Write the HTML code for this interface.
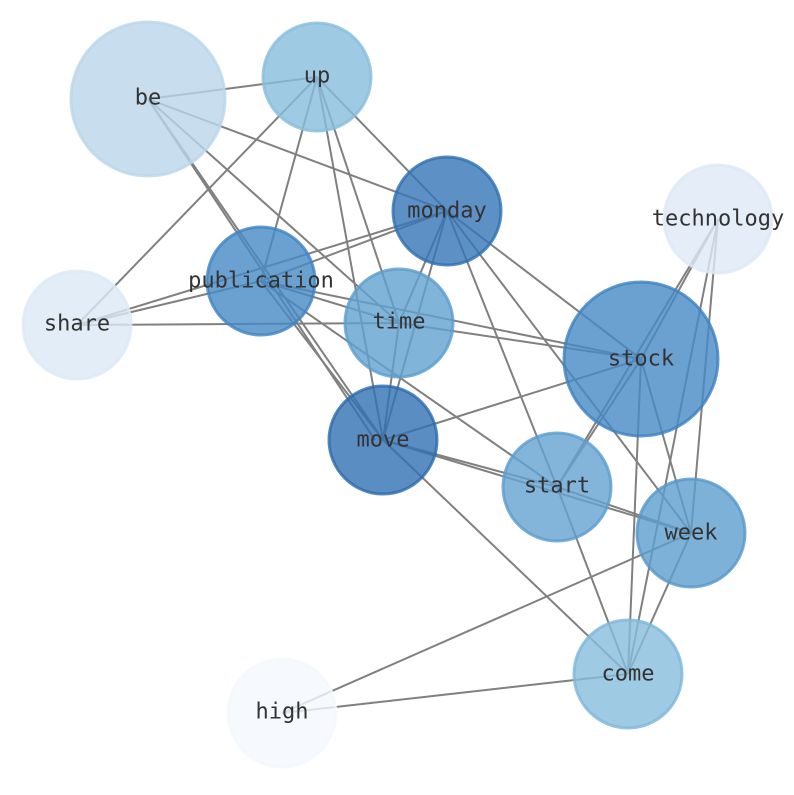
<!DOCTYPE html>
<html><head><meta charset="utf-8"><style>html,body{margin:0;padding:0;background:#fff}</style></head>
<body>
<svg width="794" height="790" viewBox="0 0 794 790" xmlns="http://www.w3.org/2000/svg">
<g stroke="#808080" stroke-width="2">
<line x1="148" y1="99" x2="317" y2="77"/>
<line x1="148" y1="99" x2="447" y2="211"/>
<line x1="148" y1="99" x2="399" y2="323"/>
<line x1="148" y1="99" x2="383" y2="440"/>
<line x1="148" y1="99" x2="375" y2="440"/>
<line x1="317" y1="77" x2="77" y2="325"/>
<line x1="317" y1="77" x2="261" y2="281"/>
<line x1="317" y1="77" x2="399" y2="323"/>
<line x1="317" y1="77" x2="383" y2="440"/>
<line x1="317" y1="77" x2="447" y2="211"/>
<line x1="447" y1="211" x2="261" y2="281"/>
<line x1="447" y1="211" x2="77" y2="325"/>
<line x1="447" y1="211" x2="399" y2="323"/>
<line x1="447" y1="211" x2="383" y2="440"/>
<line x1="447" y1="211" x2="641" y2="359"/>
<line x1="447" y1="211" x2="557" y2="487"/>
<line x1="447" y1="211" x2="691" y2="533"/>
<line x1="261" y1="281" x2="77" y2="325"/>
<line x1="261" y1="281" x2="399" y2="323"/>
<line x1="261" y1="281" x2="641" y2="359"/>
<line x1="261" y1="281" x2="383" y2="440"/>
<line x1="261" y1="281" x2="557" y2="487"/>
<line x1="77" y1="325" x2="399" y2="323"/>
<line x1="399" y1="323" x2="641" y2="359"/>
<line x1="399" y1="323" x2="383" y2="440"/>
<line x1="641" y1="359" x2="383" y2="440"/>
<line x1="641" y1="359" x2="557" y2="487"/>
<line x1="641" y1="359" x2="691" y2="533"/>
<line x1="641" y1="359" x2="628" y2="674"/>
<line x1="718" y1="219" x2="641" y2="359"/>
<line x1="718" y1="219" x2="557" y2="487"/>
<line x1="718" y1="219" x2="628" y2="674"/>
<line x1="718" y1="219" x2="691" y2="533"/>
<line x1="383" y1="440" x2="557" y2="487"/>
<line x1="383" y1="440" x2="691" y2="533"/>
<line x1="383" y1="440" x2="628" y2="674"/>
<line x1="557" y1="487" x2="628" y2="674"/>
<line x1="557" y1="487" x2="691" y2="533"/>
<line x1="691" y1="533" x2="628" y2="674"/>
<line x1="691" y1="533" x2="282" y2="713"/>
<line x1="628" y1="674" x2="282" y2="713"/>
</g>
<g stroke-width="3" fill-opacity="0.8" stroke-opacity="0.8">
<circle cx="148" cy="99" r="77" fill="#bad6ea" stroke="#bad6ea"/>
<circle cx="317" cy="77" r="54" fill="#87bddc" stroke="#87bddc"/>
<circle cx="447" cy="211" r="54" fill="#3474b5" stroke="#2e6fb0"/>
<circle cx="718" cy="219" r="54" fill="#dde9f6" stroke="#dde9f6"/>
<circle cx="261" cy="281" r="54" fill="#4689c6" stroke="#3f83c2"/>
<circle cx="77" cy="325" r="54" fill="#dce8f5" stroke="#dce8f5"/>
<circle cx="399" cy="323" r="54" fill="#60a1d0" stroke="#5a9ccd"/>
<circle cx="641" cy="359" r="77" fill="#4689c6" stroke="#3d81bf"/>
<circle cx="383" cy="440" r="54" fill="#3170b2" stroke="#2a6aad"/>
<circle cx="557" cy="487" r="54" fill="#64a3d1" stroke="#5a9ccd"/>
<circle cx="691" cy="533" r="54" fill="#5c9dcd" stroke="#5697ca"/>
<circle cx="628" cy="674" r="54" fill="#87bddc" stroke="#7db6da"/>
<circle cx="282" cy="713" r="54" fill="#f4f8fd" stroke="#f4f8fd"/>
</g>
<g font-family="'DejaVu Sans Mono','Liberation Mono',monospace" font-size="22" fill="#333" text-anchor="middle" dominant-baseline="central">
<text x="148" y="98">be</text>
<text x="317" y="76">up</text>
<text x="447" y="211">monday</text>
<text x="718" y="219">technology</text>
<text x="261" y="281">publication</text>
<text x="77" y="324">share</text>
<text x="399" y="322">time</text>
<text x="641" y="359">stock</text>
<text x="383" y="440">move</text>
<text x="557" y="486">start</text>
<text x="691" y="533">week</text>
<text x="628" y="674">come</text>
<text x="282" y="712">high</text>
</g>
</svg>
</body></html>
